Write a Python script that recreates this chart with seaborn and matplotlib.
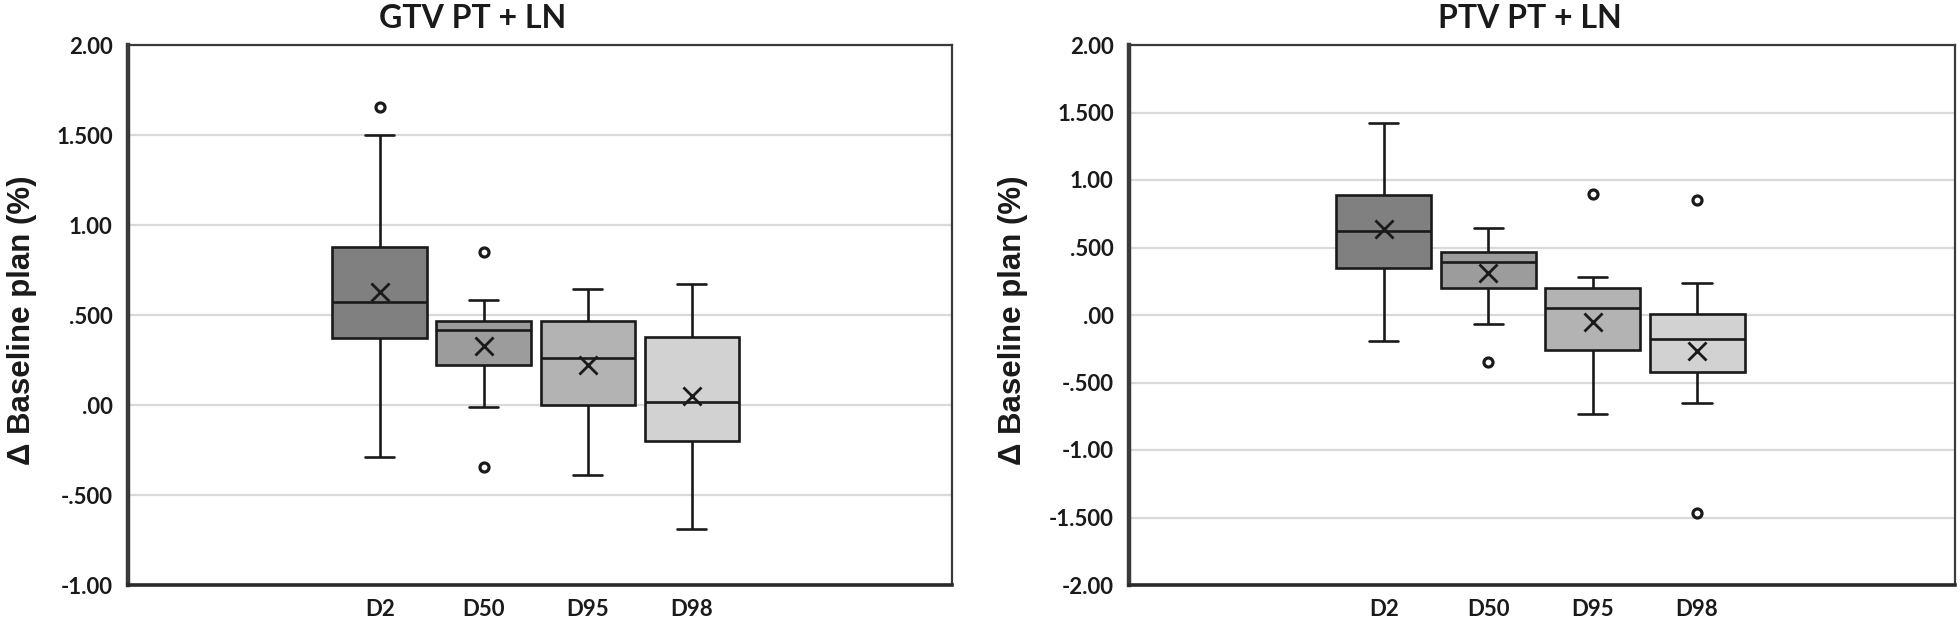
import numpy as np
import pandas as pd
import matplotlib
matplotlib.use("Agg")
import matplotlib.pyplot as plt
import seaborn as sns

# ---------------- data ----------------
categories = ["D2", "D50", "D95", "D98"]

# GTV PT + LN
gtv_low = [-0.29, -0.01, -0.39, -0.69]
gtv_q1 = [0.37, 0.22, 0.00, -0.20]
gtv_med = [0.575, 0.415, 0.26, 0.015]
gtv_q3 = [0.88, 0.465, 0.465, 0.38]
gtv_high = [1.50, 0.585, 0.645, 0.675]
gtv_mean = [0.63, 0.33, 0.225, 0.05]
gtv_out_cat = ["D2", "D50", "D50"]
gtv_out_val = [1.655, 0.85, -0.345]

# PTV PT + LN
ptv_low = [-0.19, -0.07, -0.735, -0.65]
ptv_q1 = [0.345, 0.20, -0.26, -0.42]
ptv_med = [0.62, 0.395, 0.05, -0.18]
ptv_q3 = [0.89, 0.47, 0.20, 0.01]
ptv_high = [1.425, 0.645, 0.28, 0.24]
ptv_mean = [0.635, 0.31, -0.055, -0.265]
ptv_out_cat = ["D50", "D95", "D98", "D98"]
ptv_out_val = [-0.345, 0.895, 0.85, -1.465]

gtv_ticks = [-1.0, -0.5, 0.0, 0.5, 1.0, 1.5, 2.0]
gtv_ticklabels = ["-1.00", "-.500", ".00", ".500", "1.00", "1.500", "2.00"]
ptv_ticks = [-2.0, -1.5, -1.0, -0.5, 0.0, 0.5, 1.0, 1.5, 2.0]
ptv_ticklabels = ["-2.00", "-1.500", "-1.00", "-.500", ".00", ".500", "1.00", "1.500", "2.00"]

titles = ["GTV PT + LN", "PTV PT + LN"]
ylabel = "\u0394 Baseline plan (%)"

box_colors = ["#808080", "#9c9c9c", "#b3b3b3", "#d2d2d2"]

# ---------------- styling ----------------
sns.set_style("white")
plt.rcParams["font.family"] = ["Lato", "DejaVu Sans"]

fig = plt.figure(figsize=(19.6, 6.22), dpi=100)
ax1 = fig.add_axes([128 / 1960, 37 / 622, 824 / 1960, 540 / 622])
ax2 = fig.add_axes([1129 / 1960, 37 / 622, 826 / 1960, 540 / 622])


def five_num_frame(low, q1, med, q3, high):
    rows = []
    for c, a, b, m, d, e in zip(categories, low, q1, med, q3, high):
        for v in (a, b, m, d, e):
            rows.append({"cat": c, "val": v})
    return pd.DataFrame(rows)


def draw(ax, low, q1, med, q3, high, mean, out_cat, out_val,
         ticks, ticklabels, ylim, xlim):
    df = five_num_frame(low, q1, med, q3, high)
    for t in ticks:
        ax.axhline(t, color="#d9d9d9", lw=1.6, zorder=0)
    sns.boxplot(data=df, x="cat", y="val", hue="cat", order=categories,
                hue_order=categories, palette=box_colors, legend=False,
                whis=(0, 100), showfliers=False, width=0.91, gap=0,
                saturation=1, linewidth=1.9, linecolor="#1a1a1a",
                capwidths=0.28, ax=ax, zorder=2)
    sns.stripplot(x=out_cat, y=out_val, order=categories, jitter=False,
                  marker="o", size=6.5, color="white", edgecolor="#1a1a1a",
                  linewidth=2.3, ax=ax, zorder=4)
    sns.stripplot(x=categories, y=mean, order=categories, jitter=False,
                  marker="x", size=13, color="#1a1a1a", edgecolor="#1a1a1a",
                  linewidth=2, ax=ax, zorder=5)
    ax.set_ylim(*ylim)
    ax.set_xlim(*xlim)
    ax.set_yticks(ticks)
    ax.set_yticklabels(ticklabels)
    ax.set_xlabel("")
    ax.set_ylabel(ylabel, fontsize=22.5, fontweight="bold",
                  family=["Liberation Sans", "DejaVu Sans"], color="#1a1a1a")
    ax.tick_params(axis="both", length=0, labelsize=16)
    ax.tick_params(axis="y", pad=11)
    ax.tick_params(axis="x", pad=10)
    for lab in ax.get_xticklabels() + ax.get_yticklabels():
        lab.set_fontweight("bold")
        lab.set_color("#1a1a1a")
    for side in ["top", "right"]:
        ax.spines[side].set_visible(True)
        ax.spines[side].set_linewidth(1.6)
        ax.spines[side].set_color("#3a3a3a")
    ax.spines["left"].set_linewidth(3.2)
    ax.spines["left"].set_color("#3a3a3a")
    ax.spines["bottom"].set_linewidth(2.6)
    ax.spines["bottom"].set_color("#2a2a2a")
    ax.grid(False)


draw(ax1, gtv_low, gtv_q1, gtv_med, gtv_q3, gtv_high, gtv_mean,
     gtv_out_cat, gtv_out_val, gtv_ticks, gtv_ticklabels,
     (-1.0, 2.0), (-2.42, 5.5))
draw(ax2, ptv_low, ptv_q1, ptv_med, ptv_q3, ptv_high, ptv_mean,
     ptv_out_cat, ptv_out_val, ptv_ticks, ptv_ticklabels,
     (-2.0, 2.0), (-2.44, 5.47))

ax1.yaxis.set_label_coords(-0.110, 0.49)
ax2.yaxis.set_label_coords(-0.122, 0.49)

fig.text(473 / 1960, 1 - 19 / 622, titles[0], ha="center", va="center",
         fontsize=23, fontweight="bold", color="#1a1a1a")
fig.text(1530 / 1960, 1 - 19 / 622, titles[1], ha="center", va="center",
         fontsize=23, fontweight="bold", color="#1a1a1a")

fig.savefig("out.png", dpi=100, facecolor="white")
